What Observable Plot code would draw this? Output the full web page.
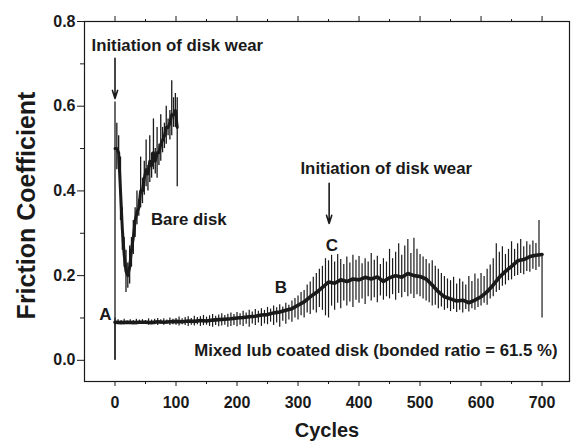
<!DOCTYPE html>
<html>
<head>
<meta charset="utf-8">
<script src="https://cdn.jsdelivr.net/npm/d3@7"></script>
<script src="https://cdn.jsdelivr.net/npm/@observablehq/plot@0.6"></script>
<style>
  html, body { margin: 0; padding: 0; background: #fff; }
  #chart svg { display: block; }
</style>
</head>
<body>
<div id="chart"></div>
<script>
// ---- Axis ticks ----
const xTicks = [0, 100, 200, 300, 400, 500, 600, 700];
const xMinorTicks = [50, 150, 250, 350, 450, 550, 650];
const yTicks = [0.0, 0.2, 0.4, 0.6, 0.8];
const yMinorTicks = [0.1, 0.3, 0.5, 0.7];

// ---- Bare disk (sampled every 3 cycles, 0..102) ----
const bareCycles = d3.range(0, 103, 3);
const bareHigh = [0.61, 0.56, 0.53, 0.48, 0.36, 0.29, 0.26, 0.23, 0.27, 0.29,
                  0.33, 0.36, 0.40, 0.38, 0.48, 0.43, 0.47, 0.52, 0.46, 0.53,
                  0.49, 0.57, 0.50, 0.55, 0.51, 0.58, 0.55, 0.56, 0.60, 0.57,
                  0.59, 0.66, 0.62, 0.63, 0.62];
const bareLow  = [0.00, 0.45, 0.46, 0.33, 0.26, 0.22, 0.16, 0.17, 0.18, 0.22,
                  0.25, 0.29, 0.32, 0.34, 0.36, 0.37, 0.39, 0.41, 0.40, 0.42,
                  0.43, 0.45, 0.44, 0.43, 0.46, 0.47, 0.49, 0.50, 0.51, 0.53,
                  0.52, 0.53, 0.55, 0.55, 0.41];
const bareMid  = [0.50, 0.50, 0.49, 0.40, 0.31, 0.25, 0.21, 0.20, 0.22, 0.26,
                  0.29, 0.33, 0.35, 0.36, 0.40, 0.40, 0.43, 0.45, 0.44, 0.47,
                  0.46, 0.49, 0.47, 0.49, 0.49, 0.51, 0.52, 0.53, 0.55, 0.55,
                  0.56, 0.58, 0.58, 0.59, 0.55];

// ---- Mixed lub coated disk (sampled every 5 cycles, 0..700) ----
const mixedCycles = d3.range(0, 701, 5);
const mixedHigh = [
  0.100, 0.096, 0.094, 0.097, 0.093, 0.096, 0.094, 0.097, 0.095, 0.096,
  0.094, 0.098, 0.095, 0.097, 0.099, 0.096, 0.098, 0.095, 0.100, 0.097,
  0.099, 0.102, 0.098, 0.101, 0.103, 0.099, 0.104, 0.101, 0.103, 0.106,
  0.102, 0.105, 0.108, 0.104, 0.107, 0.110, 0.106, 0.109, 0.112, 0.108,
  0.113, 0.110, 0.116, 0.112, 0.118, 0.114, 0.120, 0.116, 0.122, 0.118,
  0.125, 0.121, 0.128, 0.124, 0.131, 0.126, 0.135, 0.130, 0.140, 0.146,
  0.152, 0.160, 0.165, 0.178, 0.185, 0.196, 0.205, 0.215, 0.222, 0.240,
  0.235, 0.248, 0.232, 0.250, 0.238, 0.226, 0.244, 0.230, 0.248, 0.236,
  0.245, 0.228, 0.240, 0.232, 0.252, 0.236, 0.246, 0.226, 0.240, 0.232,
  0.262, 0.240, 0.255, 0.275, 0.248, 0.270, 0.285, 0.252, 0.288, 0.262,
  0.250, 0.244, 0.238, 0.228, 0.235, 0.222, 0.215, 0.205, 0.198, 0.192,
  0.188, 0.196, 0.180, 0.192, 0.185, 0.178, 0.198, 0.186, 0.204, 0.192,
  0.205, 0.198, 0.215, 0.225, 0.240, 0.275, 0.255, 0.268, 0.250, 0.262,
  0.280, 0.262, 0.275, 0.285, 0.268, 0.280, 0.272, 0.282, 0.276, 0.330,
  0.250];
const mixedLow = [
  0.000, 0.085, 0.086, 0.084, 0.087, 0.085, 0.086, 0.084, 0.086, 0.085,
  0.086, 0.083, 0.085, 0.084, 0.082, 0.085, 0.083, 0.086, 0.082, 0.084,
  0.083, 0.081, 0.084, 0.082, 0.080, 0.083, 0.081, 0.084, 0.080, 0.082,
  0.083, 0.080, 0.078, 0.082, 0.079, 0.081, 0.083, 0.078, 0.080, 0.082,
  0.079, 0.083, 0.080, 0.085, 0.078, 0.086, 0.082, 0.088, 0.080, 0.086,
  0.084, 0.090, 0.082, 0.088, 0.078, 0.092, 0.085, 0.095, 0.090, 0.100,
  0.095, 0.105, 0.100, 0.112, 0.108, 0.118, 0.112, 0.125, 0.118, 0.105,
  0.100, 0.128, 0.118, 0.135, 0.122, 0.140, 0.128, 0.138, 0.125, 0.142,
  0.135, 0.145, 0.132, 0.150, 0.140, 0.148, 0.136, 0.152, 0.142, 0.150,
  0.145, 0.155, 0.142, 0.158, 0.148, 0.160, 0.150, 0.156, 0.146, 0.155,
  0.150, 0.145, 0.140, 0.136, 0.128, 0.130, 0.122, 0.126, 0.118, 0.122,
  0.115, 0.120, 0.113, 0.118, 0.112, 0.120, 0.114, 0.122, 0.118, 0.125,
  0.128, 0.135, 0.130, 0.145, 0.150, 0.160, 0.165, 0.175, 0.178, 0.188,
  0.190, 0.198, 0.200, 0.205, 0.202, 0.210, 0.208, 0.215, 0.212, 0.220,
  0.100];
const mixedMidCycles = d3.range(0, 701, 10);
const mixedMid = [
  0.090, 0.089, 0.090, 0.089, 0.090, 0.090, 0.089, 0.091, 0.090, 0.091,
  0.092, 0.091, 0.093, 0.092, 0.094, 0.093, 0.095, 0.096, 0.097, 0.098,
  0.100, 0.101, 0.103, 0.104, 0.107, 0.108, 0.112, 0.114, 0.118, 0.122,
  0.130, 0.138, 0.150, 0.160, 0.172, 0.185, 0.182, 0.190, 0.186, 0.192,
  0.190, 0.196, 0.192, 0.197, 0.186, 0.195, 0.200, 0.196, 0.205, 0.200,
  0.198, 0.192, 0.178, 0.162, 0.150, 0.145, 0.140, 0.142, 0.136, 0.142,
  0.150, 0.162, 0.178, 0.196, 0.210, 0.222, 0.235, 0.238, 0.245, 0.248,
  0.250];

// ---- Annotations (data coordinates) ----
const annoText = ["Initiation of disk wear", "Initiation of disk wear", "Bare disk",
                  "Mixed lub coated disk (bonded ratio = 61.5 %)"];
const annoCycle = [-38.5, 304, 59, 130];
const annoFriction = [0.743, 0.453, 0.333, 0.023];
const pointLabels = ["A", "B", "C"];
const pointCycle = [-15.6, 272, 355.7];
const pointFriction = [0.108, 0.173, 0.271];
const arrowCycle = [0, 351];
const arrowFrom = [0.713, 0.418];
const arrowTo = [0.618, 0.323];

// ---- Build tables ----
const bare = bareCycles.map((c, i) => ({c, hi: bareHigh[i], lo: bareLow[i], mid: bareMid[i]}));
const mixed = mixedCycles.map((c, i) => ({c, hi: mixedHigh[i], lo: mixedLow[i]}));
const mixedCore = mixedMidCycles.map((c, i) => ({c, v: mixedMid[i]}));
const annos = annoText.map((t, i) => ({t, c: annoCycle[i], v: annoFriction[i]}));
const points = pointLabels.map((t, i) => ({t, c: pointCycle[i], v: pointFriction[i]}));
const arrows = arrowCycle.map((c, i) => ({c, y1: arrowFrom[i], y2: arrowTo[i]}));

const ink = "#1a1a1a";
const font = "'Liberation Sans', Arial, Helvetica, sans-serif";

const chart = Plot.plot({
  width: 571,
  height: 441,
  marginLeft: 84,
  marginRight: 2,
  marginTop: 21,
  marginBottom: 60,
  style: {fontFamily: font, fontWeight: "bold", color: ink, background: "#fff"},
  x: {domain: [-50, 745]},
  y: {domain: [-0.05, 0.8]},
  marks: [
    Plot.frame({stroke: ink, strokeWidth: 1.2}),
    // bottom axis
    Plot.axisX({anchor: "bottom", ticks: xTicks, tickSize: 5, tickPadding: 10, fontSize: 16, label: null, stroke: ink}),
    Plot.axisX({anchor: "bottom", ticks: xMinorTicks, tickSize: 3, tickFormat: () => "", label: null, stroke: ink}),
    // top axis
    Plot.axisX({anchor: "top", ticks: xTicks, tickSize: 6, tickFormat: () => "", label: null, stroke: ink}),
    Plot.axisX({anchor: "top", ticks: xMinorTicks, tickSize: 3, tickFormat: () => "", label: null, stroke: ink}),
    // left axis
    Plot.axisY({anchor: "left", ticks: yTicks, tickSize: 7, tickPadding: 2, tickFormat: d3.format(".1f"), fontSize: 16, label: null, stroke: ink}),
    Plot.axisY({anchor: "left", ticks: yMinorTicks, tickSize: 4, tickFormat: () => "", label: null, stroke: ink}),
    // axis titles
    Plot.text(["Cycles"], {frameAnchor: "bottom", dy: 55, fontSize: 20, fill: ink}),
    Plot.text(["Friction Coefficient"], {frameAnchor: "left", textAnchor: "middle", dx: -58, dy: 4, rotate: -90, fontSize: 25, fill: ink}),
    // bare disk
    Plot.ruleX(bare, {x: "c", y1: "lo", y2: "hi", stroke: ink, strokeWidth: 1.3}),
    Plot.line(bare, {x: "c", y: "mid", stroke: ink, strokeWidth: 3}),
    // mixed lub coated disk
    Plot.ruleX(mixed, {x: "c", y1: "lo", y2: "hi", stroke: ink, strokeWidth: 1.2}),
    Plot.line(mixedCore, {x: "c", y: "v", stroke: ink, strokeWidth: 3.6}),
    // annotations
    Plot.arrow(arrows, {x: "c", y1: "y1", y2: "y2", stroke: ink, strokeWidth: 1.6, headLength: 8, headAngle: 35}),
    Plot.text(annos, {x: "c", y: "v", text: "t", textAnchor: "start", fontSize: 16.8, fill: ink}),
    Plot.text(points, {x: "c", y: "v", text: "t", fontSize: 17, fill: ink})
  ]
});

document.getElementById("chart").appendChild(chart);
</script>
</body>
</html>
